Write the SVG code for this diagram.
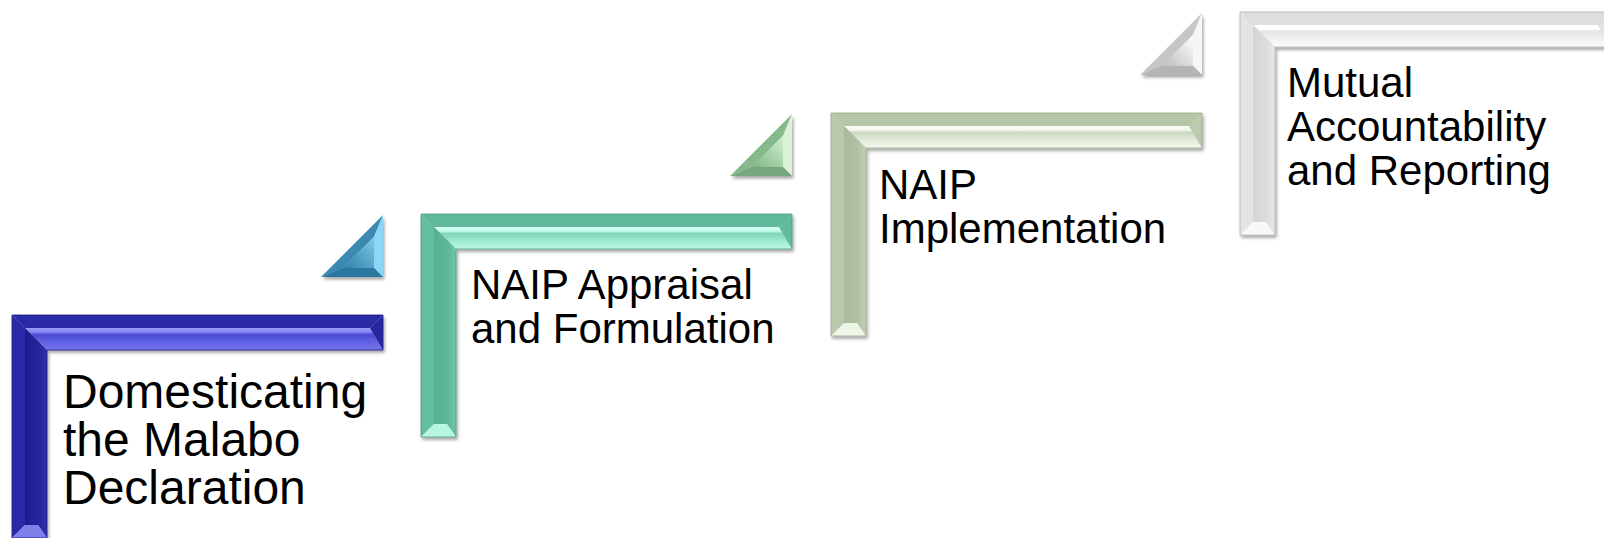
<svg xmlns="http://www.w3.org/2000/svg" width="1604" height="538" viewBox="0 0 1604 538">
<style>
  text { font-family: "Liberation Sans", Arial, sans-serif; fill: #000; }
  .t48 { font-size: 48px; }
  .t42 { font-size: 42px; }
  .edge { fill: none; stroke-width: 0.8; }
</style>
<defs>
  <filter id="sh" x="-10%" y="-10%" width="130%" height="130%">
    <feDropShadow dx="1.5" dy="2.5" stdDeviation="1.8" flood-color="#000" flood-opacity="0.35"/>
  </filter>
  <!-- blue -->
  <linearGradient id="bFace" x1="0" y1="0" x2="0" y2="1">
    <stop offset="0" stop-color="#9a9af8"/>
    <stop offset="0.18" stop-color="#8686f2"/>
    <stop offset="0.3" stop-color="#4a4ad0"/>
    <stop offset="0.55" stop-color="#5c5ce0"/>
    <stop offset="1" stop-color="#7676ee"/>
  </linearGradient>
  <linearGradient id="bVert" x1="0" y1="0" x2="1" y2="0">
    <stop offset="0" stop-color="#1e1e92"/>
    <stop offset="0.6" stop-color="#24249c"/>
    <stop offset="1" stop-color="#3030aa"/>
  </linearGradient>
  <!-- green -->
  <linearGradient id="gFace" x1="0" y1="0" x2="0" y2="1">
    <stop offset="0" stop-color="#d8fff6"/>
    <stop offset="0.18" stop-color="#c4fbee"/>
    <stop offset="0.3" stop-color="#7ed6b8"/>
    <stop offset="0.55" stop-color="#96e6cc"/>
    <stop offset="1" stop-color="#c0f8e8"/>
  </linearGradient>
  <linearGradient id="gVert" x1="0" y1="0" x2="1" y2="0">
    <stop offset="0" stop-color="#56b190"/>
    <stop offset="0.6" stop-color="#5cb796"/>
    <stop offset="1" stop-color="#70c6a6"/>
  </linearGradient>
  <!-- grey-green -->
  <linearGradient id="oFace" x1="0" y1="0" x2="0" y2="1">
    <stop offset="0" stop-color="#fbfdf8"/>
    <stop offset="0.18" stop-color="#f2f7ec"/>
    <stop offset="0.3" stop-color="#cbd8bf"/>
    <stop offset="0.55" stop-color="#dce6d2"/>
    <stop offset="1" stop-color="#f4f8ef"/>
  </linearGradient>
  <linearGradient id="oVert" x1="0" y1="0" x2="1" y2="0">
    <stop offset="0" stop-color="#a9b99a"/>
    <stop offset="0.6" stop-color="#b0c0a2"/>
    <stop offset="1" stop-color="#c2d0b6"/>
  </linearGradient>
  <!-- white -->
  <linearGradient id="wFace" x1="0" y1="0" x2="0" y2="1">
    <stop offset="0" stop-color="#ffffff"/>
    <stop offset="0.18" stop-color="#ffffff"/>
    <stop offset="0.3" stop-color="#e4e4e4"/>
    <stop offset="0.55" stop-color="#efefef"/>
    <stop offset="1" stop-color="#fbfbfb"/>
  </linearGradient>
  <linearGradient id="wVert" x1="0" y1="0" x2="1" y2="0">
    <stop offset="0" stop-color="#d6d6d6"/>
    <stop offset="0.6" stop-color="#dcdcdc"/>
    <stop offset="1" stop-color="#e8e8e8"/>
  </linearGradient>
  <!-- triangles -->
  <linearGradient id="t1In" x1="0" y1="1" x2="1" y2="0">
    <stop offset="0" stop-color="#2f7fa8"/>
    <stop offset="1" stop-color="#7ccbea"/>
  </linearGradient>
  <linearGradient id="t2In" x1="0" y1="1" x2="1" y2="0">
    <stop offset="0" stop-color="#7cb484"/>
    <stop offset="1" stop-color="#d4f0d0"/>
  </linearGradient>
  <linearGradient id="t3In" x1="0" y1="1" x2="1" y2="0">
    <stop offset="0" stop-color="#bdbdbd"/>
    <stop offset="1" stop-color="#ffffff"/>
  </linearGradient>
</defs>

<rect width="1604" height="538" fill="#ffffff"/>

<!-- Step 1 -->
<g id="step1">
  <g transform="translate(12,315)" filter="url(#sh)">
    <polygon points="0,0 371,0 358,13 13,13" fill="#2c2ca6"/>
    <polygon points="13,13 358,13 371,35 35,35" fill="url(#bFace)"/>
    <polygon points="371,0 371,35 358,13" fill="#2626a0"/>
    <polygon points="0,0 13,13 13,210 0,223" fill="#2a2aa8"/>
    <polygon points="13,13 35,35 35,223 26,210 13,210" fill="url(#bVert)"/>
    <polygon points="0,223 35,223 26,210 13,210" fill="#8080ea"/>
    <polygon points="0,0 371,0 371,35 35,35 35,223 0,223" class="edge" stroke="#1a1a80"/>
  </g>
  <text class="t48" x="63" y="408">Domesticating</text>
  <text class="t48" x="63" y="456">the Malabo</text>
  <text class="t48" x="63" y="504">Declaration</text>
</g>

<!-- Step 2 -->
<g id="step2">
  <g transform="translate(421,214)" filter="url(#sh)">
    <polygon points="0,0 371,0 358,13 13,13" fill="#5eb899"/>
    <polygon points="13,13 358,13 371,35 35,35" fill="url(#gFace)"/>
    <polygon points="371,0 371,35 358,13" fill="#62bc9c"/>
    <polygon points="0,0 13,13 13,210 0,223" fill="#64be9e"/>
    <polygon points="13,13 35,35 35,223 26,210 13,210" fill="url(#gVert)"/>
    <polygon points="0,223 35,223 26,210 13,210" fill="#b8f6e4"/>
    <polygon points="0,0 371,0 371,35 35,35 35,223 0,223" class="edge" stroke="#4a9a7e"/>
  </g>
  <text class="t42" x="471" y="299">NAIP Appraisal</text>
  <text class="t42" x="471" y="343">and Formulation</text>
</g>

<!-- Step 3 -->
<g id="step3">
  <g transform="translate(831,113)" filter="url(#sh)">
    <polygon points="0,0 371,0 358,13 13,13" fill="#b6c6a6"/>
    <polygon points="13,13 358,13 371,35 35,35" fill="url(#oFace)"/>
    <polygon points="371,0 371,35 358,13" fill="#bccaae"/>
    <polygon points="0,0 13,13 13,210 0,223" fill="#bac8ac"/>
    <polygon points="13,13 35,35 35,223 26,210 13,210" fill="url(#oVert)"/>
    <polygon points="0,223 35,223 26,210 13,210" fill="#eef4e6"/>
    <polygon points="0,0 371,0 371,35 35,35 35,223 0,223" class="edge" stroke="#98a888"/>
  </g>
  <text class="t42" x="879" y="199">NAIP</text>
  <text class="t42" x="879" y="243">Implementation</text>
</g>

<!-- Step 4 -->
<g id="step4">
  <g transform="translate(1240,12)" filter="url(#sh)">
    <polygon points="0,0 371,0 358,13 13,13" fill="#dedede"/>
    <polygon points="13,13 358,13 371,35 35,35" fill="url(#wFace)"/>
    <polygon points="371,0 371,35 358,13" fill="#e2e2e2"/>
    <polygon points="0,0 13,13 13,210 0,223" fill="#e4e4e4"/>
    <polygon points="13,13 35,35 35,223 26,210 13,210" fill="url(#wVert)"/>
    <polygon points="0,223 35,223 26,210 13,210" fill="#f8f8f8"/>
    <polygon points="0,0 371,0 371,35 35,35 35,223 0,223" class="edge" stroke="#b0b0b0"/>
  </g>
  <text class="t42" x="1287" y="97">Mutual</text>
  <text class="t42" x="1287" y="141">Accountability</text>
  <text class="t42" x="1287" y="185">and Reporting</text>
</g>

<!-- Connectors (step triangles) -->
<g id="connectors">
  <g id="tri1" transform="translate(321,215)" filter="url(#sh)">
    <polygon points="0,62 62,0 53,21.7 21.7,53" fill="#3a88b0"/>
    <polygon points="62,0 62,62 53,53 53,21.7" fill="#8ad6f4"/>
    <polygon points="0,62 62,62 53,53 21.7,53" fill="#2c78a0"/>
    <polygon points="21.7,53 53,53 53,21.7" fill="url(#t1In)"/>
  </g>
  <g id="tri2" transform="translate(730,114)" filter="url(#sh)">
    <polygon points="0,62 62,0 53,21.7 21.7,53" fill="#86ba8c"/>
    <polygon points="62,0 62,62 53,53 53,21.7" fill="#dcf2d8"/>
    <polygon points="0,62 62,62 53,53 21.7,53" fill="#74a87c"/>
    <polygon points="21.7,53 53,53 53,21.7" fill="url(#t2In)"/>
  </g>
  <g id="tri3" transform="translate(1140,13)" filter="url(#sh)">
    <polygon points="0,62 62,0 53,21.7 21.7,53" fill="#c6c6c6"/>
    <polygon points="62,0 62,62 53,53 53,21.7" fill="#f6f6f6"/>
    <polygon points="0,62 62,62 53,53 21.7,53" fill="#b4b4b4"/>
    <polygon points="21.7,53 53,53 53,21.7" fill="url(#t3In)"/>
  </g>
</g>
</svg>
